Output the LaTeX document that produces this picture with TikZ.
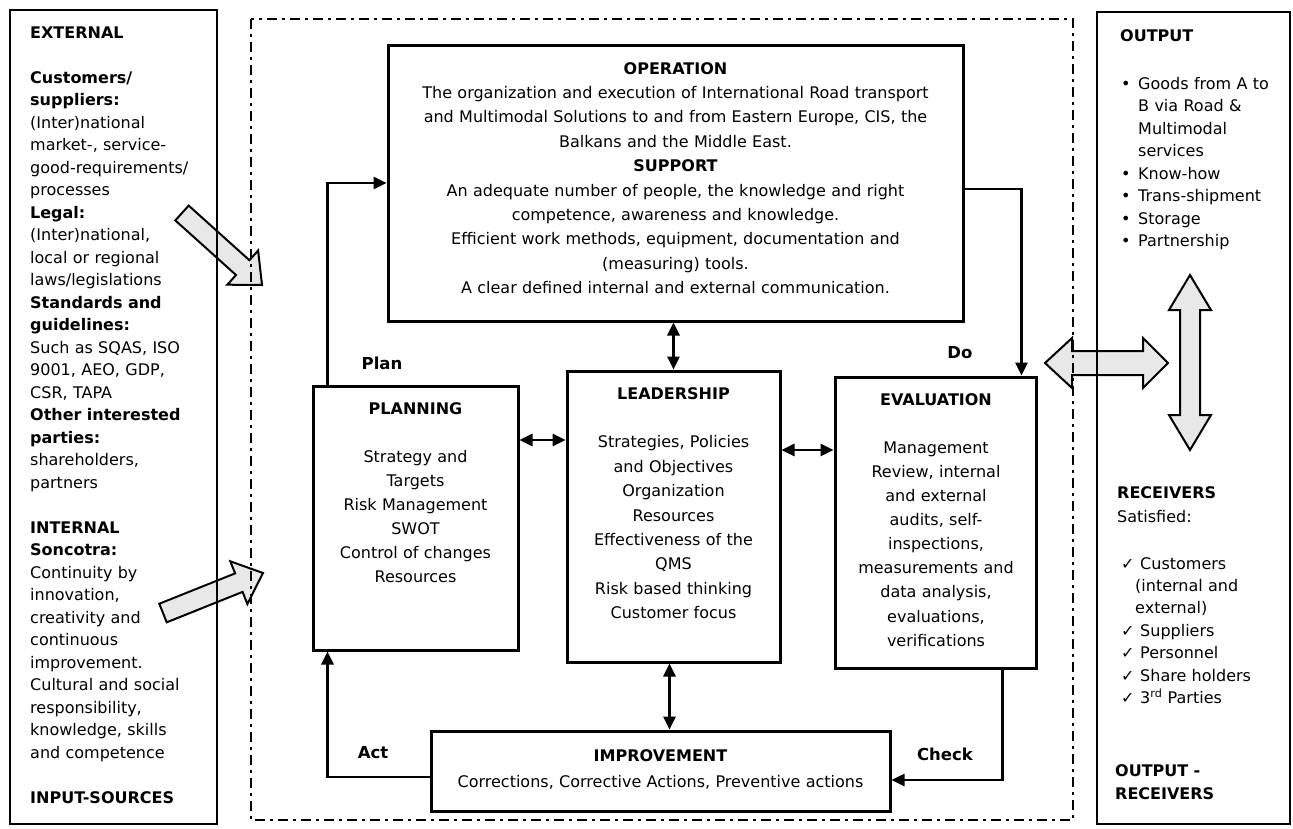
\documentclass[tikz,border=0pt]{standalone}
\usepackage{fontspec}
\setmainfont{DejaVu Sans}
\usetikzlibrary{arrows.meta,calc}
\begin{document}
\begin{tikzpicture}[x=1pt,y=-1pt,
  box/.style={draw, line width=3pt, inner sep=0pt},
  panel/.style={draw, line width=2.6pt, inner sep=0pt},
  conn/.style={line width=2.6pt, -{Triangle[length=13pt,width=12pt]}},
  dbl/.style={line width=2.6pt, {Triangle[length=13pt,width=12pt]}-{Triangle[length=13pt,width=12pt]}},
  hollow/.style={draw, line width=2pt, fill=black!9, line join=miter},
  frame/.style={line width=2.8pt, dash pattern=on 10pt off 5pt on 3pt off 5pt},
  txt/.style={inner sep=0pt, anchor=north, align=center},
  ltxt/.style={inner sep=0pt, anchor=north west, align=left},
  lbl/.style={inner sep=0pt, font=\bfseries\fontsize{16.5}{20}\selectfont},
]
\useasboundingbox (0,0) rectangle (1293,828);
\fill[white] (0,0) rectangle (1293,828);

% hollow arrows (drawn first, lines pass over them)
\draw[hollow] (175.3,220.4) -- (236.0,275.0) -- (227.3,284.7) -- (262,285) -- (258.1,250.5) -- (249.4,260.2) -- (188.7,205.6) -- cycle;
\draw[hollow] (166.7,622.3) -- (242.6,591.9) -- (247.4,604.0) -- (263,573) -- (230.3,561.3) -- (235.1,573.4) -- (159.3,603.7) -- cycle;
\draw[hollow] (1045,363) -- (1072,338) -- (1072,351) -- (1143,351) -- (1143,338) -- (1168,363) -- (1143,388) -- (1143,375) -- (1072,375) -- (1072,388) -- cycle;
\draw[hollow] (1190,275) -- (1211,310) -- (1200,310) -- (1200,415) -- (1211,415) -- (1190,450) -- (1169,415) -- (1180,415) -- (1180,310) -- (1169,310) -- cycle;

% outer panels and frame
\node[panel, minimum width=207pt, minimum height=814pt] (leftp) at (113.5,417) {};
\node[panel, minimum width=193pt, minimum height=812pt] (rightp) at (1193.5,418) {};
\draw[frame] (251,19) rectangle (1073,820);

% boxes
\node[box, minimum width=575pt, minimum height=276pt] (op) at (675.5,183) {};
\node[box, minimum width=205pt, minimum height=264pt] (plan) at (415.5,518) {};
\node[box, minimum width=213pt, minimum height=291pt] (lead) at (673.5,516.5) {};
\node[box, minimum width=201pt, minimum height=291pt] (eval) at (935.5,522.5) {};
\node[box, minimum width=459pt, minimum height=80pt] (imp) at (660.5,771) {};

% helper coordinates
\coordinate (pl) at (540,440);
\coordinate (le) at (808,450);
\coordinate (chk) at (1001,780);
\coordinate (act) at (330,777);

% connectors
\draw[conn] ([xshift=16pt]plan.north west) |- (op.west);
\draw[conn] ([yshift=-6pt]op.east) -| ([xshift=-16pt]eval.north east);
\draw[dbl] (op.south -| lead.north) -- (lead.north);
\draw[dbl] (plan.east |- pl) -- (lead.west |- pl);
\draw[dbl] (lead.east |- le) -- (eval.west |- le);
\draw[dbl] ([xshift=-4pt]lead.south) -- ([xshift=-4pt]lead.south |- imp.north);
\draw[conn] ([xshift=-35pt]eval.south east) |- (imp.east |- chk);
\draw[conn] (imp.west |- act) -| ([xshift=16pt]plan.south west);

% labels
\node[lbl] (plbl) at (382,363) {Plan};
\node[lbl] (dlbl) at (960,353) {Do};
\node[lbl] (albl) at (373,753) {Act};
\node[lbl] (clbl) at (945,754) {Check};

% box texts
\node[txt, text width=570pt, font={\fontsize{16}{24.4}\selectfont}] (optext) at (675.5,56.9) {\strut\textbf{OPERATION}\\
The organization and execution of International Road transport\\
and Multimodal Solutions to and from Eastern Europe, CIS, the\\
Balkans and the Middle East.\\
\textbf{SUPPORT}\\
An adequate number of people, the knowledge and right\\
competence, awareness and knowledge.\\
Efficient work methods, equipment, documentation and\\
(measuring) tools.\\
A clear defined internal and external communication.};

\node[txt, text width=200pt, font={\fontsize{16}{24}\selectfont}] (plantext) at (415.5,397.2) {\strut\textbf{PLANNING}\\[24pt]
Strategy and\\ Targets\\ Risk Management\\ SWOT\\ Control of changes\\ Resources};

\node[txt, text width=210pt, font={\fontsize{16}{24.4}\selectfont}] (leadtext) at (673.5,381.9) {\strut\textbf{LEADERSHIP}\\[24.4pt]
Strategies, Policies\\ and Objectives\\ Organization\\ Resources\\ Effectiveness of the\\ QMS\\ Risk based thinking\\ Customer focus};

\node[txt, text width=198pt, font={\fontsize{16}{24.1}\selectfont}] (evaltext) at (936,388.1) {\strut\textbf{EVALUATION}\\[24.1pt]
Management\\ Review, internal\\ and external\\ audits, self-\\ inspections,\\ measurements and\\ data analysis,\\ evaluations,\\ verifications};

\node[txt, text width=450pt, font={\fontsize{16}{26}\selectfont}] (imptext) at (660.5,742.8) {\strut\textbf{IMPROVEMENT}\\
Corrections, Corrective Actions, Preventive actions};

% left panel text
\node[ltxt, text width=185pt, font={\fontsize{16}{22.5}\selectfont}] (lefttext) at (30,22.25) {\strut\textbf{EXTERNAL}\\[22.5pt]
\textbf{Customers/}\\
\textbf{suppliers:}\\
(Inter)national\\
market-, service-\\
good-requirements/\\
processes\\
\textbf{Legal:}\\
(Inter)national,\\
local or regional\\
laws/legislations\\
\textbf{Standards and}\\
\textbf{guidelines:}\\
Such as SQAS, ISO\\
9001, AEO, GDP,\\
CSR, TAPA\\
\textbf{Other interested}\\
\textbf{parties:}\\
shareholders,\\
partners\\[22.5pt]
\textbf{INTERNAL}\\
\textbf{Soncotra:}\\
Continuity by\\
innovation,\\
creativity and\\
continuous\\
improvement.\\
Cultural and social\\
responsibility,\\
knowledge, skills\\
and competence\\[22.5pt]
\textbf{INPUT-SOURCES}};

% right panel text
\node[ltxt, text width=160pt, font={\bfseries\fontsize{16}{22.5}\selectfont}] (outtitle) at (1120,25.25) {\strut OUTPUT};
\node[ltxt, text width=165pt, font={\fontsize{16}{22.5}\selectfont}] (outlist) at (1121,73.25) {\strut\makebox[17pt][l]{•}Goods from A to\\
\hspace*{17pt}B via Road \&\\
\hspace*{17pt}Multimodal\\
\hspace*{17pt}services\\
\makebox[17pt][l]{•}Know-how\\
\makebox[17pt][l]{•}Trans-shipment\\
\makebox[17pt][l]{•}Storage\\
\makebox[17pt][l]{•}Partnership};
\node[ltxt, text width=165pt, font={\fontsize{16}{24.5}\selectfont}] (rectitle) at (1117,480.85) {\strut\textbf{RECEIVERS}\\ Satisfied:};
\node[ltxt, text width=165pt, font={\fontsize{16}{22.4}\selectfont}] (reclist) at (1121,553.3) {\strut\makebox[19pt][l]{✓}Customers\\
\hspace*{14pt}(internal and\\
\hspace*{14pt}external)\\
\makebox[19pt][l]{✓}Suppliers\\
\makebox[19pt][l]{✓}Personnel\\
\makebox[19pt][l]{✓}Share holders\\
\makebox[19pt][l]{✓}3\textsuperscript{rd} Parties};
\node[ltxt, text width=165pt, font={\bfseries\fontsize{16}{23}\selectfont}] (outrec) at (1115,759.9) {\strut OUTPUT -\\ RECEIVERS};
\end{tikzpicture}
\end{document}
